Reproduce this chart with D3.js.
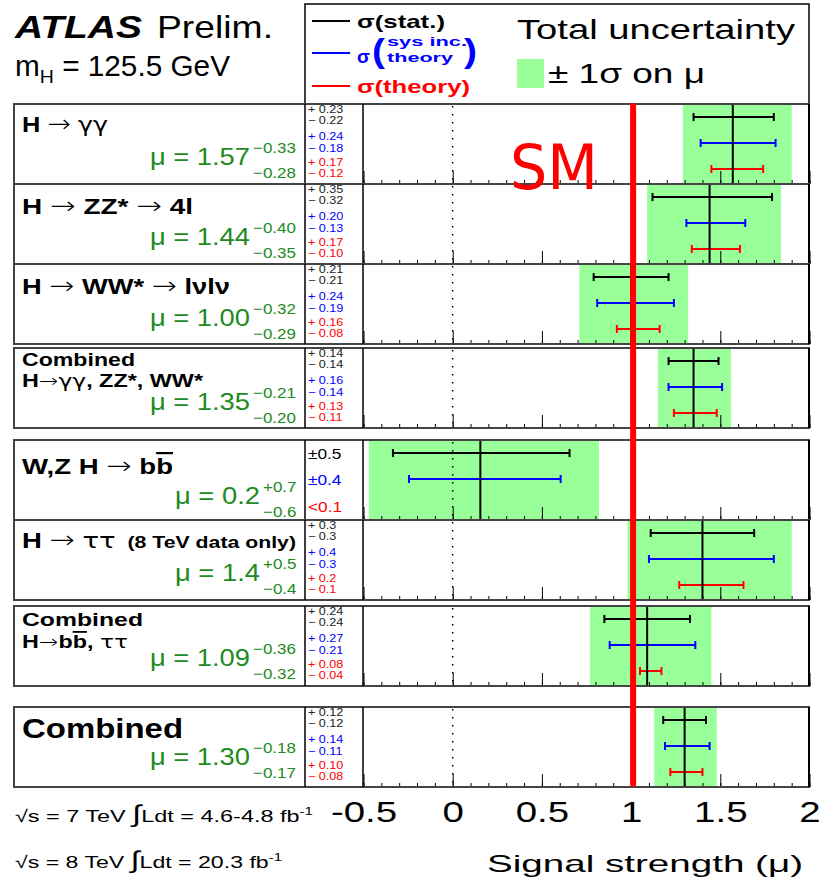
<!DOCTYPE html>
<html>
<head>
<meta charset="utf-8">
<script src="https://cdn.jsdelivr.net/npm/d3@7"></script>
<style>
  body { margin: 0; background: #fff; }
  text { font-family: "Liberation Sans", Arial, Helvetica, sans-serif; white-space: pre; }
</style>
</head>
<body>
<script>
// ---- data ----
var rowTitles = [["H → γγ"], ["H → ZZ* → 4l"], ["H → WW* → lνlν"], ["Combined", "H→γγ, ZZ*, WW*"],
                 ["W,Z H → bb\u0304"], ["H → ττ  (8 TeV data only)"], ["Combined", "H→bb\u0304, ττ"], ["Combined"]];
var muText = ["1.57", "1.44", "1.00", "1.35", "0.2", "1.4", "1.09", "1.30"];
var muSup  = ["−0.33", "−0.40", "−0.32", "−0.21", "+0.7", "+0.5", "−0.36", "−0.18"];
var muSub  = ["−0.28", "−0.35", "−0.29", "−0.20", "−0.6", "−0.4", "−0.32", "−0.17"];

var mu     = [1.57, 1.44, 1.00, 1.35, 0.155, 1.40, 1.09, 1.30];
var totUp  = [0.33, 0.40, 0.32, 0.21, 0.665, 0.50, 0.36, 0.18];
var totDn  = [0.28, 0.35, 0.29, 0.20, 0.625, 0.42, 0.32, 0.17];
var statUp = [0.23, 0.35, 0.21, 0.14, 0.50, 0.29, 0.24, 0.12];
var statDn = [0.22, 0.32, 0.21, 0.14, 0.49, 0.29, 0.24, 0.12];
var sysUp  = [0.24, 0.20, 0.24, 0.16, 0.45, 0.40, 0.27, 0.14];
var sysDn  = [0.18, 0.13, 0.19, 0.14, 0.40, 0.30, 0.21, 0.11];
var thUp   = [0.17, 0.17, 0.16, 0.13, null, 0.23, 0.08, 0.10];
var thDn   = [0.12, 0.10, 0.08, 0.11, null, 0.13, 0.04, 0.08];

var errText = [
  ["+ 0.23", "− 0.22", "+ 0.24", "− 0.18", "+ 0.17", "− 0.12"],
  ["+ 0.35", "− 0.32", "+ 0.20", "− 0.13", "+ 0.17", "− 0.10"],
  ["+ 0.21", "− 0.21", "+ 0.24", "− 0.19", "+ 0.16", "− 0.08"],
  ["+ 0.14", "− 0.14", "+ 0.16", "− 0.14", "+ 0.13", "− 0.11"],
  ["±0.5", "±0.4", "<0.1"],
  ["+ 0.3", "− 0.3", "+ 0.4", "− 0.3", "+ 0.2", "− 0.1"],
  ["+ 0.24", "− 0.24", "+ 0.27", "− 0.21", "+ 0.08", "− 0.04"],
  ["+ 0.12", "− 0.12", "+ 0.14", "− 0.11", "+ 0.10", "− 0.08"]
];
var axisTicks = [-0.5, 0, 0.5, 1, 1.5, 2];

// ---- layout ----
var W = 827, H = 883;
var green = "#99ff99", muGreen = "#218a21";
var rowH = 80, firstTop = 104;
var gaps = [0, 0, 0, 4, 12, 0, 6, 21];
var rowTop = [];
gaps.reduce(function(y, g, i){ rowTop[i] = y + g; return y + g + rowH; }, firstTop);

var x = d3.scaleLinear().domain([-0.5, 2]).range([363.5, 809.5]);

var svg = d3.select("body").append("svg")
    .attr("width", W).attr("height", H);

// stretch text horizontally like the picture
function fit(sel, w){ sel.attr("textLength", w).attr("lengthAdjust", "spacingAndGlyphs"); }
function widen(sel, k){
    sel.each(function(){
        var L = this.getComputedTextLength();
        d3.select(this).attr("textLength", L * k).attr("lengthAdjust", "spacingAndGlyphs");
    });
}
// titles: thin arrows, symbol-like greek, overlined b, smaller bracket part
function rich(txt, str, size){
    str.split(/(→|b\u0304|[γτ]+|\s+\(.*\))/).filter(function(s){ return s.length; }).forEach(function(p){
        var t = txt.append("tspan");
        if (p === "→") t.attr("font-weight", 300).attr("font-size", size >= 22 ? size * 1.1 : size)
            .style("font-family", "'DejaVu Sans', sans-serif").text(p);
        else if (/^[γτ]+$/.test(p)) t.attr("font-weight", "normal")
            .style("font-family", "'DejaVu Sans', sans-serif").text(p);
        else if (p === "b\u0304") t.style("text-decoration", "overline").text("b");
        else if (p.trim()[0] === "(") t.attr("font-size", 17).text(p);
        else t.text(p);
    });
}

// ---- header ----
svg.append("text").attr("x", 15).attr("y", 38).attr("font-size", 32)
    .attr("font-weight", "bold").attr("font-style", "italic").text("ATLAS").call(fit, 127);
svg.append("text").attr("x", 157).attr("y", 38).attr("font-size", 32).text("Prelim.").call(fit, 116);
var mh = svg.append("text").attr("x", 15).attr("y", 76).attr("font-size", 29);
mh.append("tspan").text("m");
mh.append("tspan").attr("font-size", 19).attr("dy", 7).text("H");
mh.append("tspan").attr("dy", -7).text(" = 125.5 GeV");
mh.call(fit, 215);

// legend box
svg.append("rect").attr("x", 305).attr("y", 4).attr("width", 504).attr("height", 100)
    .attr("fill", "none").attr("stroke", "#000").attr("stroke-width", 1.5);
var legColors = ["#000", "#0000ff", "#ff0000"], legY = [21, 53, 86];
legY.forEach(function(y, i){
    svg.append("line").attr("x1", 312).attr("x2", 350).attr("y1", y).attr("y2", y)
        .attr("stroke", legColors[i]).attr("stroke-width", 2);
});
svg.append("text").attr("x", 357).attr("y", 28).attr("font-size", 19).attr("font-weight", "bold")
    .text("σ(stat.)").call(fit, 88);
var lb = svg.append("g").attr("fill", "#0000ff").attr("font-weight", "bold");
lb.append("text").attr("x", 357).attr("y", 63).attr("font-size", 19).text("σ").call(fit, 13);
lb.append("text").attr("x", 372).attr("y", 62).attr("font-size", 33).text("(").call(fit, 13);
lb.append("text").attr("x", 387).attr("y", 46).attr("font-size", 13).text("sys inc.").call(fit, 80);
lb.append("text").attr("x", 387).attr("y", 62).attr("font-size", 13).text("theory").call(fit, 66);
lb.append("text").attr("x", 464).attr("y", 62).attr("font-size", 33).text(")").call(fit, 13);
svg.append("text").attr("x", 357).attr("y", 93).attr("font-size", 19).attr("font-weight", "bold")
    .attr("fill", "#ff0000").text("σ(theory)").call(fit, 113);

svg.append("text").attr("x", 517).attr("y", 39).attr("font-size", 28).text("Total uncertainty").call(fit, 278);
svg.append("rect").attr("x", 517).attr("y", 59).attr("width", 27).attr("height", 29).attr("fill", green);
svg.append("text").attr("x", 548).attr("y", 83).attr("font-size", 28).text("± 1σ on μ").call(fit, 157);

// ---- rows ----
var titleSize = [22, 22, 22, 18, 22, 22, 18, 27];
var titleBase = [[28], [30], [30], [18, 39], [34], [28], [20, 42], [31]];
var titleW = [[86], [171], [208], [113, 181], [151], [274], [121, 106], [161]];
var muBase = [61, 61, 62, 62, 64, 61, 60, 58];
var muEnd = [250, 250, 250, 250, 260, 260, 250, 250];
var muW = [100, 100, 100, 100, 85, 85, 100, 100];
var errBase = [9, 20, 36, 48, 62, 73], errBaseBig = [19, 45, 72];
var errCol = ["#222", "#222", "#0000ff", "#0000ff", "#ff0000", "#ff0000"];
var barY = [13, 39, 65];

var minorTicks = d3.range(-5, 21).map(function(i){ return i / 10; });

mu.forEach(function(m, i){
    var top = rowTop[i], g = svg.append("g");

    // total uncertainty band
    g.append("rect")
        .attr("x", x(m - totDn[i])).attr("width", x(m + totUp[i]) - x(m - totDn[i]))
        .attr("y", top).attr("height", rowH).attr("fill", green);

    // dotted line at zero
    g.append("line").attr("x1", x(0)).attr("x2", x(0)).attr("y1", top + 2).attr("y2", top + rowH)
        .attr("stroke", "#000").attr("stroke-width", 1.5).attr("stroke-dasharray", "1.5,6.5");

    // ticks along the bottom of each row
    g.append("g").attr("transform", "translate(0," + (top + rowH) + ")")
        .call(d3.axisTop(x).tickValues(minorTicks).tickSize(4).tickFormat(""))
        .call(function(a){ a.select(".domain").remove(); });
    g.append("g").attr("transform", "translate(0," + (top + rowH) + ")")
        .call(d3.axisTop(x).tickValues(axisTicks).tickSize(13).tickFormat(""))
        .call(function(a){ a.select(".domain").remove(); });

    // error bars
    var bars = [[statDn[i], statUp[i]], [sysDn[i], sysUp[i]], [thDn[i], thUp[i]]];
    bars.forEach(function(b, j){
        if (b[0] === null) return;
        var y = top + barY[j], x1 = x(m - b[0]), x2 = x(m + b[1]);
        var col = legColors[j];
        g.append("line").attr("x1", x1).attr("x2", x2).attr("y1", y).attr("y2", y)
            .attr("stroke", col).attr("stroke-width", 2);
        [x1, x2].forEach(function(xx){
            g.append("line").attr("x1", xx).attr("x2", xx).attr("y1", y - 4).attr("y2", y + 4)
                .attr("stroke", col).attr("stroke-width", 2);
        });
    });

    // central value
    g.append("line").attr("x1", x(m)).attr("x2", x(m)).attr("y1", top).attr("y2", top + rowH)
        .attr("stroke", "#000").attr("stroke-width", 2);

    // frames
    g.append("rect").attr("x", 14).attr("y", top).attr("width", 795).attr("height", rowH)
        .attr("fill", "none").attr("stroke", "#444").attr("stroke-width", 2);
    [305, 363].forEach(function(xx){
        g.append("line").attr("x1", xx).attr("x2", xx).attr("y1", top).attr("y2", top + rowH)
            .attr("stroke", "#000").attr("stroke-width", 1.5);
    });
    g.append("line").attr("x1", 809).attr("x2", 809).attr("y1", top).attr("y2", top + rowH)
        .attr("stroke", "#000").attr("stroke-width", 2);

    // titles
    rowTitles[i].forEach(function(str, k){
        var t = g.append("text").attr("x", 22).attr("y", top + titleBase[i][k])
            .attr("font-size", titleSize[i]).attr("font-weight", "bold");
        rich(t, str, titleSize[i]);
        t.call(fit, titleW[i][k]);
    });

    // mu label
    g.append("text").attr("x", muEnd[i]).attr("y", top + muBase[i]).attr("text-anchor", "end")
        .attr("font-size", 23).attr("fill", muGreen).text("μ = " + muText[i]).call(fit, muW[i]);
    g.append("text").attr("x", muEnd[i] + 3).attr("y", top + muBase[i] - 12)
        .attr("font-size", 15).attr("fill", muGreen).text(muSup[i]).call(widen, 1.13);
    g.append("text").attr("x", muEnd[i] + 3).attr("y", top + muBase[i] + 13)
        .attr("font-size", 15).attr("fill", muGreen).text(muSub[i]).call(widen, 1.13);

    // uncertainty numbers
    var big = errText[i].length === 3;
    errText[i].forEach(function(s, k){
        g.append("text").attr("x", 308).attr("y", top + (big ? errBaseBig[k] : errBase[k]))
            .attr("font-size", big ? 15 : 10.5)
            .attr("fill", big ? legColors[k] : errCol[k])
            .text(s).call(widen, big ? 1.15 : 1.2);
    });
});

// ---- x axis labels ----
var lastBottom = rowTop[rowTop.length - 1] + rowH;
svg.append("g").attr("transform", "translate(0," + lastBottom + ")")
    .call(d3.axisBottom(x).tickValues(axisTicks).tickSize(0).tickPadding(14)
        .tickFormat(function(d){ return String(d); }))
    .call(function(a){
        a.select(".domain").remove();
        a.selectAll("text").attr("font-size", 30).attr("fill", "#000")
            .style("font-family", "'Liberation Sans', Arial, sans-serif").call(widen, 1.28);
    });
svg.append("text").attr("x", 487).attr("y", 872).attr("font-size", 24)
    .text("Signal strength (μ)").call(fit, 316);

// ---- energies / luminosities ----
[["7", "4.6-4.8", 822, 298], ["8", "20.3", 868, 267]].forEach(function(r){
    var t = svg.append("text").attr("x", 15).attr("y", r[2]).attr("font-size", 17);
    t.append("tspan").text("√s = " + r[0] + " TeV ");
    t.append("tspan").attr("font-size", 24).text("∫");
    t.append("tspan").text("Ldt = " + r[1] + " fb");
    t.append("tspan").attr("font-size", 11).attr("dy", -7).text("-1");
    t.call(fit, r[3]);
});

// ---- SM annotation ----
svg.append("line").attr("x1", x(1) + 2).attr("x2", x(1) + 2)
    .attr("y1", rowTop[0] + 2).attr("y2", lastBottom - 3)
    .attr("stroke", "#ff0000").attr("stroke-width", 6).attr("stroke-linecap", "round");
svg.append("text").attr("x", 510).attr("y", 189).attr("font-size", 63)
    .style("font-family", "'DejaVu Sans', sans-serif")
    .attr("fill", "#ff0000").text("SM").call(fit, 88);
</script>
</body>
</html>
